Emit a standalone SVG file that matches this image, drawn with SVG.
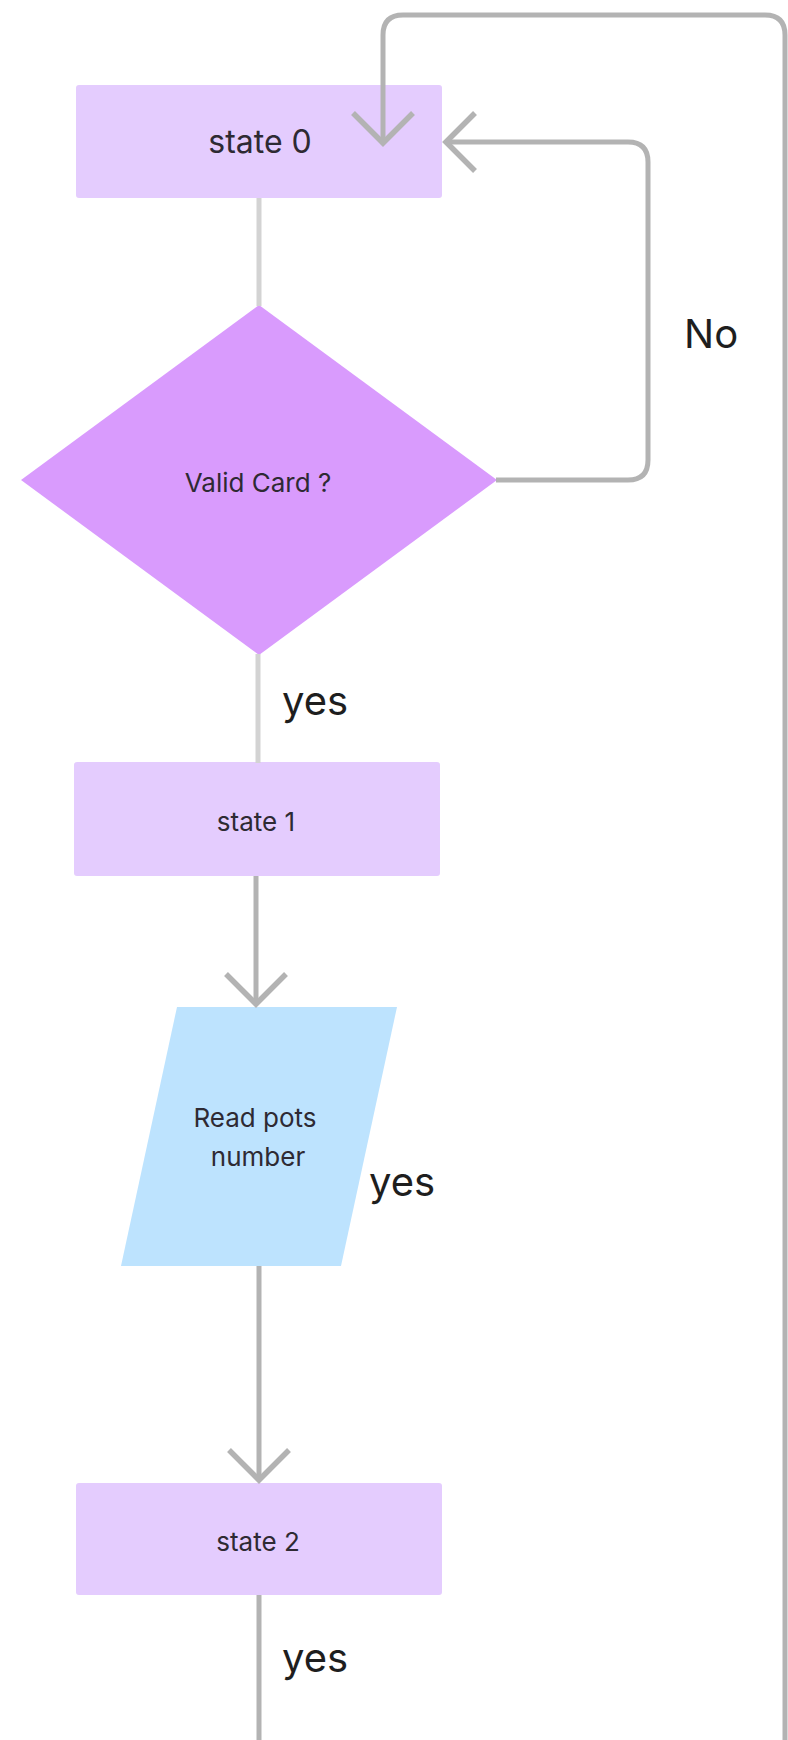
<svg xmlns="http://www.w3.org/2000/svg" width="788" height="1740" viewBox="0 0 788 1740">
<style>
.state{fill:#e4ccfe}
.dec{fill:#d99bfd}
.io{fill:#bde3fe}
.ntext{font-family:Inter,"Liberation Sans",sans-serif;fill:#2e2a33;text-anchor:middle}
.lbl{font-family:Inter,"Liberation Sans",sans-serif;font-size:40px;fill:#1e1e1e}
.conn{fill:none;stroke:#b3b3b3;stroke-width:5;stroke-linejoin:round}
.conn-light{fill:none;stroke:#d3d3d3;stroke-width:5}
.head{fill:none;stroke:#b3b3b3;stroke-width:5.5;stroke-linecap:butt;stroke-linejoin:miter}
</style>
<rect width="788" height="1740" fill="#ffffff"/>
<g id="state0">
  <rect class="state" x="76" y="85" width="366" height="113" rx="3"/>
  <text class="ntext" x="260" y="153" font-size="32">state 0</text>
</g>
<g id="valid-card">
  <polygon class="dec" points="259,305 497,480 259,655 21,480"/>
  <text class="ntext" x="258" y="492" font-size="26">Valid Card ?</text>
</g>
<g id="state1">
  <rect class="state" x="74" y="762" width="366" height="114" rx="3"/>
  <text class="ntext" x="256" y="831" font-size="26">state 1</text>
</g>
<g id="read-pots">
  <polygon class="io" points="177,1007 397,1007 341,1266 121,1266"/>
  <text class="ntext" x="255" y="1127" font-size="26">Read pots</text>
  <text class="ntext" x="258" y="1166" font-size="26">number</text>
</g>
<g id="state2">
  <rect class="state" x="76" y="1483" width="366" height="112" rx="3"/>
  <text class="ntext" x="258" y="1551" font-size="26">state 2</text>
</g>
<g id="connectors">
  <path class="conn-light" d="M259 198 V306"/>
  <path class="conn-light" d="M258 654 V763"/>
  <path class="conn" d="M256 876 V1003"/>
  <path class="head" d="M226 974 L256 1004 L286 974"/>
  <path class="conn" d="M259 1266 V1478"/>
  <path class="head" d="M229 1450 L259 1480 L289 1450"/>
  <path class="conn" d="M259 1595 V1740"/>
  <path class="conn" d="M496 480 H628 Q648 480 648 460 V162 Q648 142 628 142 H447"/>
  <path class="head" d="M475 113 L446 142 L475 171"/>
  <path class="conn" d="M785 1740 V35 Q785 15 765 15 H403 Q383 15 383 35 V142"/>
  <path class="head" d="M353 113 L383 143 L413 113"/>
</g>
<g id="labels">
  <text class="lbl" x="684" y="348">No</text>
  <text class="lbl" x="282" y="715">yes</text>
  <text class="lbl" x="369" y="1196">yes</text>
  <text class="lbl" x="282" y="1672">yes</text>
</g>
</svg>
